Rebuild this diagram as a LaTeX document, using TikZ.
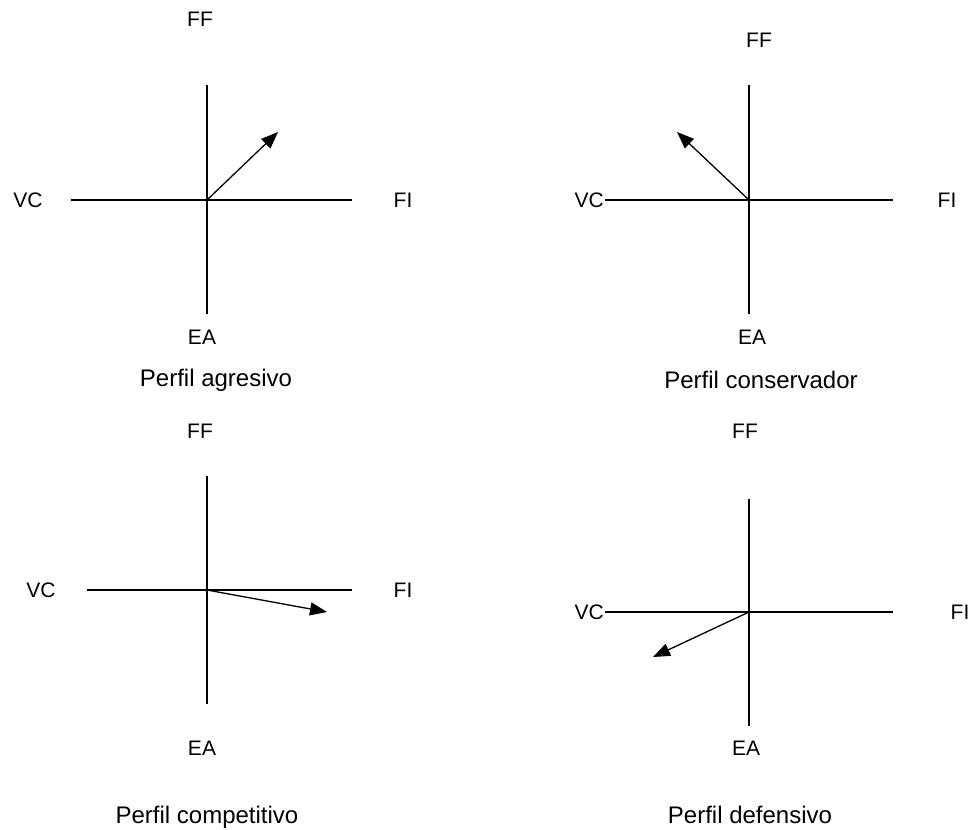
\documentclass[tikz,border=0pt]{standalone}
\usepackage{fontspec}
\setmainfont{Liberation Sans}
\usetikzlibrary{arrows.meta}
\begin{document}
\begin{tikzpicture}[x=1pt,y=-1pt,
  lbl/.style={inner sep=0pt,font=\fontsize{21}{24}\selectfont},
  caption/.style={inner sep=0pt,font=\fontsize{24}{28}\selectfont},
  axis/.style={line width=1.3pt},
  vec/.style={line width=1.3pt,-{Triangle[length=17pt,width=13pt]}}]
\useasboundingbox (0,0) rectangle (973,829);
% ---- Perfil agresivo ----
\coordinate (o1) at (207,200);
\coordinate (t1) at (207,85);  \coordinate (b1) at (207,314);
\coordinate (l1) at (71,200);  \coordinate (r1) at (352,200);
\coordinate (a1) at (278,132);
\draw[axis] (t1) -- (b1);
\draw[axis] (l1) -- (r1);
\draw[vec] (o1) -- (a1);
\node[lbl] (ff1) at (200,19) {FF};
\node[lbl] (vc1) at (28,200) {VC};
\node[lbl] (fi1) at (403,200) {FI};
\node[lbl] (ea1) at (202,337) {EA};
\node[caption] (p1) at (216,380) {Perfil agresivo};
% ---- Perfil conservador ----
\coordinate (o2) at (749,200);
\coordinate (t2) at (749,85);  \coordinate (b2) at (749,314);
\coordinate (l2) at (605,200); \coordinate (r2) at (893,200);
\coordinate (a2) at (677,132);
\draw[axis] (t2) -- (b2);
\draw[axis] (l2) -- (r2);
\draw[vec] (o2) -- (a2);
\node[lbl] (ff2) at (759,40) {FF};
\node[lbl,anchor=east] (vc2) at (604,200) {VC};
\node[lbl] (fi2) at (947,200) {FI};
\node[lbl] (ea2) at (752,337) {EA};
\node[caption] (p2) at (761,380) {Perfil conservador};
% ---- Perfil competitivo ----
\coordinate (o3) at (207,590);
\coordinate (t3) at (207,476); \coordinate (b3) at (207,704);
\coordinate (l3) at (87,590);  \coordinate (r3) at (352,590);
\coordinate (a3) at (327,612);
\draw[axis] (t3) -- (b3);
\draw[axis] (l3) -- (r3);
\draw[vec] (o3) -- (a3);
\node[lbl] (ff3) at (200,431) {FF};
\node[lbl] (vc3) at (41,590) {VC};
\node[lbl] (fi3) at (403,590) {FI};
\node[lbl] (ea3) at (202,748) {EA};
\node[caption] (p3) at (207,817) {Perfil competitivo};
% ---- Perfil defensivo ----
\coordinate (o4) at (749,612);
\coordinate (t4) at (749,499); \coordinate (b4) at (749,726);
\coordinate (l4) at (605,612); \coordinate (r4) at (893,612);
\coordinate (a4) at (653,657);
\draw[axis] (t4) -- (b4);
\draw[axis] (l4) -- (r4);
\draw[vec] (o4) -- (a4);
\node[lbl] (ff4) at (745,431) {FF};
\node[lbl,anchor=east] (vc4) at (604,612) {VC};
\node[lbl] (fi4) at (960,612) {FI};
\node[lbl] (ea4) at (746,748) {EA};
\node[caption] (p4) at (750,815) {Perfil defensivo};
\end{tikzpicture}
\end{document}
